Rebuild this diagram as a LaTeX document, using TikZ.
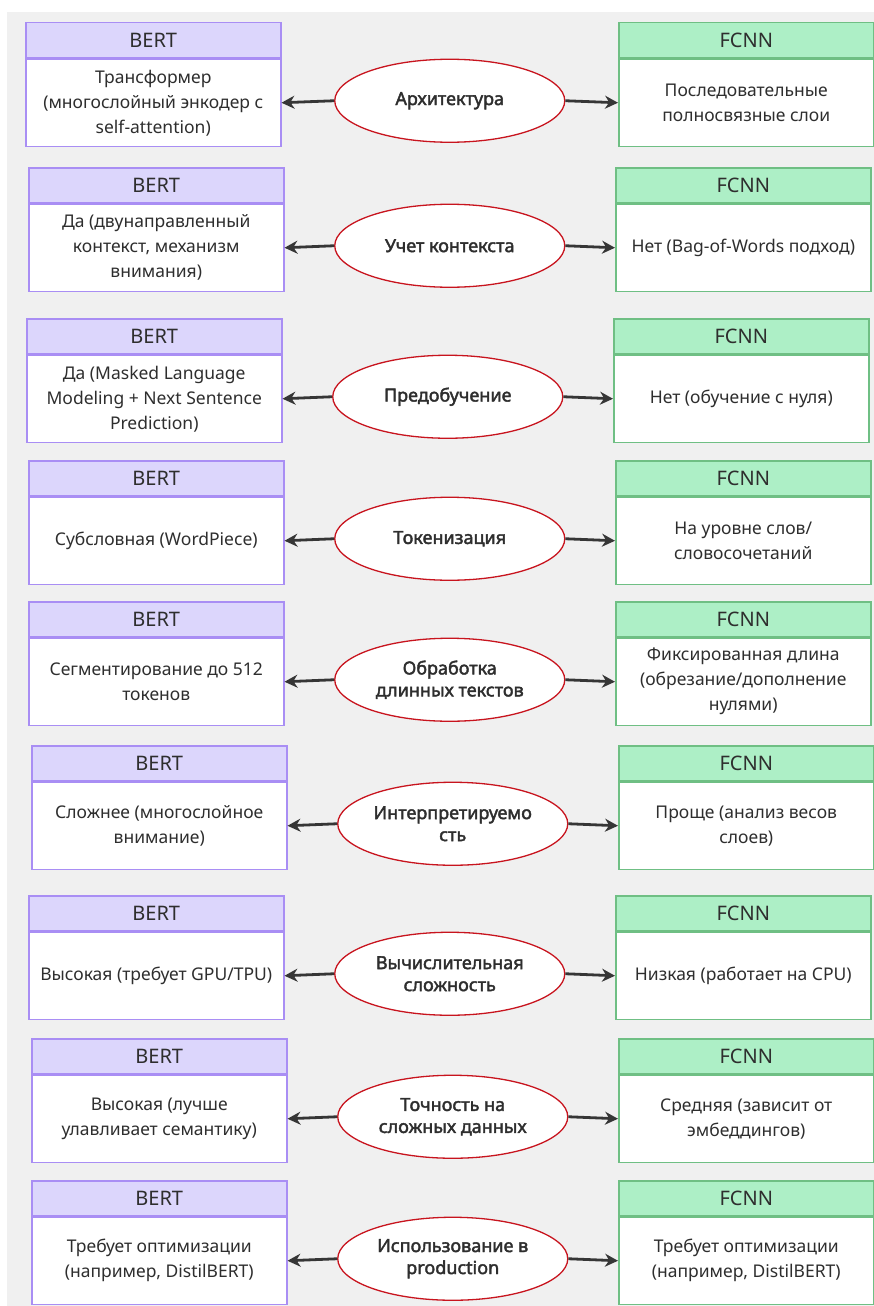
\documentclass[tikz,border=0pt]{standalone}
\usepackage{fontspec}
\setmainfont{Noto Sans}
\newfontfamily\critfont{Noto Sans}[FakeBold=2.2]
\usetikzlibrary{shapes.geometric,arrows.meta,calc}

\definecolor{canvas}{HTML}{F0F0F0}
\definecolor{bertfill}{HTML}{DCD6FC}
\definecolor{bertline}{HTML}{A98EF4}
\definecolor{fcnnfill}{HTML}{ADEFC6}
\definecolor{fcnnline}{HTML}{6FBF84}
\definecolor{critline}{HTML}{C8141E}
\definecolor{inktext}{HTML}{2E2E2E}
\definecolor{arrowink}{HTML}{363636}

\tikzset{
  headbox/.style={rectangle, minimum width=255pt, minimum height=35pt, inner sep=0pt,
    line width=1.5pt, text=inktext, font=\fontsize{20}{24}\selectfont},
  bodybox/.style={rectangle, minimum width=255pt, minimum height=87pt, inner sep=0pt,
    line width=1.5pt, fill=white, text=inktext, align=center,
    font=\fontsize{17.5}{25}\selectfont},
  berthead/.style={headbox, draw=bertline, fill=bertfill},
  bertbody/.style={bodybox, draw=bertline},
  fcnnhead/.style={headbox, draw=fcnnline, fill=fcnnfill},
  fcnnbody/.style={bodybox, draw=fcnnline},
  criterion/.style={ellipse, minimum width=230pt, minimum height=83pt, inner sep=0pt,
    draw=critline, line width=1.3pt, fill=white, text=inktext, align=center,
    font=\critfont\bfseries\fontsize{18}{22}\selectfont},
  link/.style={draw=arrowink, line width=2.8pt, -{Stealth[length=13pt,width=13pt]}},
}

% one comparison row: #1 name, #2 top edge, #3 BERT x, #4 FCNN x,
% #5 BERT text, #6 criterion, #7 FCNN text
\newcommand\cmprow[7]{%
  \node[berthead, anchor=north west] (#1bh) at (#3,#2) {BERT};
  \node[bertbody, anchor=north west] (#1b) at (#1bh.south west) {#5};
  \node[fcnnhead, anchor=north west] (#1fh) at (#4,#2) {FCNN};
  \node[fcnnbody, anchor=north west] (#1f) at (#1fh.south west) {#7};
  \node[criterion] (#1c) at ($($(#1b.east)!0.5!(#1f.west)$)+(0,-2)$) {#6};
  \draw[link] (#1c.west) -- (#1b.east);
  \draw[link] (#1c.east) -- (#1f.west);
}

\begin{document}
\begin{tikzpicture}[x=1pt, y=-1pt]
  \useasboundingbox (0,0) rectangle (874,1306);
  \fill[white] (0,0) rectangle (874,1306);
  \fill[canvas] (7,12) rectangle (874,1306);

  \cmprow{r1}{22}{25}{618}
    {Трансформер\\(многослойный энкодер с\\self-attention)}
    {Архитектура}
    {Последовательные\\полносвязные слои}
  \cmprow{r2}{167}{28}{615}
    {Да (двунаправленный\\контекст, механизм\\внимания)}
    {Учет контекста}
    {Нет (Bag-of-Words подход)}
  \cmprow{r3}{318}{26}{613}
    {Да (Masked Language\\Modeling + Next Sentence\\Prediction)}
    {Предобучение}
    {Нет (обучение с нуля)}
  \cmprow{r4}{460}{28}{615}
    {Субсловная (WordPiece)}
    {Токенизация}
    {На уровне слов/\\словосочетаний}
  \cmprow{r5}{601}{28}{615}
    {Сегментирование до 512\\токенов}
    {Обработка\\длинных текстов}
    {Фиксированная длина\\(обрезание/дополнение\\нулями)}
  \cmprow{r6}{745}{31}{618}
    {Сложнее (многослойное\\внимание)}
    {Интерпретируемо\\сть}
    {Проще (анализ весов\\слоев)}
  \cmprow{r7}{895}{28}{615}
    {Высокая (требует GPU/TPU)}
    {Вычислительная\\сложность}
    {Низкая (работает на CPU)}
  \cmprow{r8}{1038}{31}{618}
    {Высокая (лучше\\улавливает семантику)}
    {Точность на\\сложных данных}
    {Средняя (зависит от\\эмбеддингов)}
  \cmprow{r9}{1180}{31}{618}
    {Требует оптимизации\\(например, DistilBERT)}
    {Использование в\\production}
    {Требует оптимизации\\(например, DistilBERT)}
\end{tikzpicture}
\end{document}
